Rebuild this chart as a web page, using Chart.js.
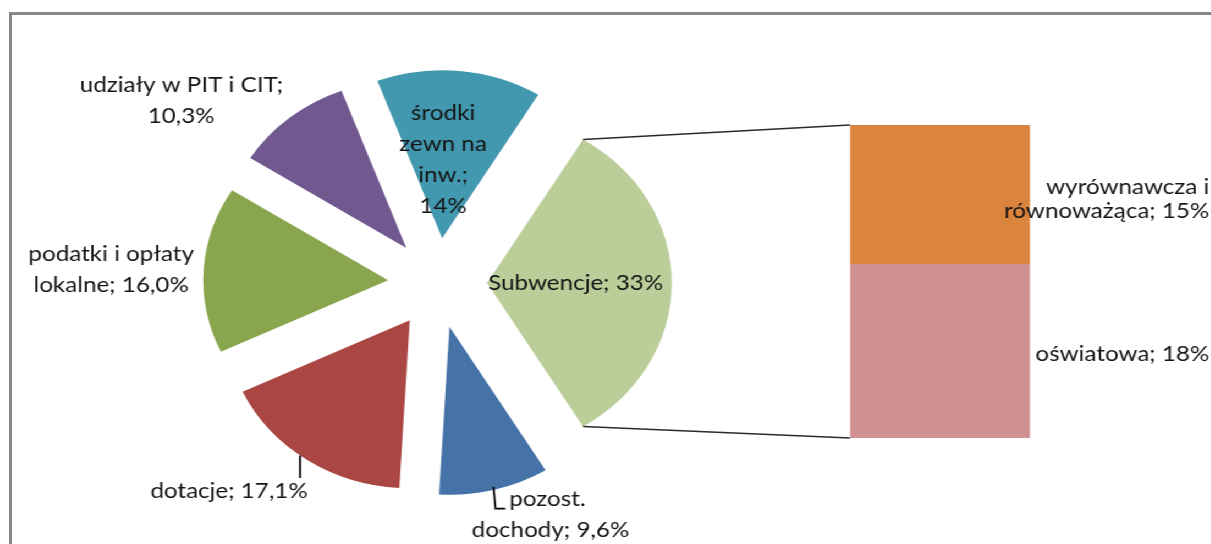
<!DOCTYPE html>
<html>
<head>
<meta charset="utf-8">
<script src="https://cdn.jsdelivr.net/npm/chart.js@4.4.1/dist/chart.umd.min.js"></script>
<style>
html, body { margin: 0; padding: 0; background: #fff; overflow: hidden; }
#frame { position: absolute; left: 9px; top: 12px; width: 1300px; height: 600px;
  border-top: 3px solid #868686; border-left: 3px solid #868686; }
/* the original picture is stretched a bit in width, so the chart is too */
#stage { position: absolute; left: 0; top: 0; width: 1101px; height: 544px;
  transform: scaleX(1.1); transform-origin: 0 0; }
#stage canvas { position: absolute; left: 0; top: 0; }
</style>
</head>
<body>
<div id="frame"></div>
<div id="stage">
  <canvas id="pieChart" width="1101" height="544"></canvas>
  <canvas id="barChart" width="1101" height="544"></canvas>
</div>
<script>
// main pie
const pieCategories = ['Subwencje', 'pozost. dochody', 'dotacje', 'podatki i opłaty lokalne', 'udziały w PIT i CIT', 'środki zewn na inw.'];
const pieValues = [32.6, 9.6, 17.1, 16.0, 10.3, 14.4];
const pieLabelText = ['Subwencje; 33%', 'pozost. \ndochody; 9,6%', 'dotacje; 17,1%', 'podatki i opłaty\nlokalne; 16,0%', 'udziały w PIT i CIT;\n10,3%', 'środki\nzewn na\ninw.;\n14%'];
const pieColors = ['#BBCE99', '#4572A7', '#AA4643', '#89A54E', '#71588F', '#4198AF'];

// bar split of "Subwencje"
const barCategories = ['oświatowa', 'wyrównawcza i równoważąca'];
const barValues = [18.1, 14.5];
const barLabelText = ['oświatowa; 18%', 'wyrównawcza i\nrównoważąca; 15%'];
const barColors = ['#D09193', '#DB843D'];

const FONT = '22px Lato';
const TEXT_COLOR = '#151515';
const R = 168;
const EXPLODE = 45;
const CX = 397.7, CY = 283, HALF = 200;

// [distance in radii from slice tip, angle from slice middle in degrees]
const pieLabelPlace = [[0.48, 0], [1.245, -12], [1.41, 9.9], [1.5, -1.1], [1.5, -15.2], [0.47, -4.8]];
// [x past the bar's right edge, y from segment middle]
const barLabelPlace = [[163, 2.5], [163, 4]];

const total = pieValues.reduce((a, b) => a + b, 0);
const rad = d => d * Math.PI / 180;

function drawLines(ctx, text, x, y, lineH) {
  const lines = text.split('\n');
  const y0 = y - (lines.length - 1) * lineH / 2;
  lines.forEach((ln, i) => ctx.fillText(ln, x, y0 + i * lineH));
}

const explodePlugin = {
  id: 'explode',
  afterDatasetsUpdate(chart) {
    chart.getDatasetMeta(0).data.forEach(arc => {
      const mid = (arc.startAngle + arc.endAngle) / 2;
      arc.x += Math.cos(mid) * EXPLODE;
      arc.y += Math.sin(mid) * EXPLODE;
    });
  }
};

const pieLabelPlugin = {
  id: 'pieLabels',
  afterDatasetsDraw(chart) {
    const ctx = chart.ctx;
    ctx.save();
    ctx.font = FONT;
    ctx.fillStyle = TEXT_COLOR;
    ctx.strokeStyle = '#000';
    ctx.lineWidth = 1.8;
    ctx.textAlign = 'center';
    ctx.textBaseline = 'middle';
    chart.getDatasetMeta(0).data.forEach((arc, i) => {
      const mid = (arc.startAngle + arc.endAngle) / 2;
      const [k, da] = pieLabelPlace[i];
      const a = mid + rad(da);
      const x = arc.x + Math.cos(a) * k * arc.outerRadius;
      const y = arc.y + Math.sin(a) * k * arc.outerRadius;
      drawLines(ctx, pieLabelText[i], x, y, 31);

      // leader lines
      if (i === 2) {
        const la = mid + rad(2.4);
        const sx = arc.x + Math.cos(la) * arc.outerRadius;
        const sy = arc.y + Math.sin(la) * arc.outerRadius;
        ctx.beginPath();
        ctx.moveTo(sx, sy);
        ctx.lineTo(sx, y - 13);
        ctx.stroke();
      }
      if (i === 1) {
        const sx = arc.x + Math.cos(mid) * (arc.outerRadius - 3);
        const sy = arc.y + Math.sin(mid) * (arc.outerRadius - 3);
        const ly = y - 15.5 + 9.5;
        ctx.beginPath();
        ctx.moveTo(sx, sy);
        ctx.lineTo(x - 50, ly);
        ctx.lineTo(x - 41, ly);
        ctx.stroke();
      }
    });
    ctx.restore();
  }
};

const pieChart = new Chart(document.getElementById('pieChart'), {
  type: 'pie',
  data: {
    labels: pieCategories,
    datasets: [{
      data: pieValues,
      backgroundColor: pieColors,
      borderWidth: 0
    }]
  },
  options: {
    responsive: false,
    animation: false,
    events: [],
    rotation: 90 - pieValues[0] / total * 180,
    radius: R,
    layout: {
      padding: { left: CX - HALF, right: 1101 - CX - HALF, top: CY - HALF, bottom: 544 - CY - HALF }
    },
    plugins: {
      legend: { display: false },
      tooltip: { enabled: false }
    }
  },
  plugins: [explodePlugin, pieLabelPlugin]
});

const barLabelPlugin = {
  id: 'barLabels',
  afterDatasetsDraw(chart) {
    const ctx = chart.ctx;
    ctx.save();
    ctx.font = FONT;
    ctx.fillStyle = TEXT_COLOR;
    ctx.textAlign = 'right';
    ctx.textBaseline = 'middle';
    barValues.forEach((v, i) => {
      const bar = chart.getDatasetMeta(i).data[0];
      const [dx, dy] = barLabelPlace[i];
      drawLines(ctx, barLabelText[i], bar.x + bar.width / 2 + dx, (bar.y + bar.base) / 2 + dy, 24);
    });
    ctx.restore();
  }
};

// lines from the "Subwencje" slice to the bar
const connectorPlugin = {
  id: 'connector',
  afterDatasetsDraw(chart) {
    const arc = pieChart.getDatasetMeta(0).data[0];
    const bottom = chart.getDatasetMeta(0).data[0];
    const top = chart.getDatasetMeta(barValues.length - 1).data[0];
    const left = top.x - top.width / 2;
    const ctx = chart.ctx;
    ctx.save();
    ctx.strokeStyle = '#2a2a2a';
    ctx.lineWidth = 1.3;
    ctx.beginPath();
    ctx.moveTo(arc.x + Math.cos(arc.startAngle) * arc.outerRadius, arc.y + Math.sin(arc.startAngle) * arc.outerRadius);
    ctx.lineTo(left, top.y);
    ctx.moveTo(arc.x + Math.cos(arc.endAngle) * arc.outerRadius, arc.y + Math.sin(arc.endAngle) * arc.outerRadius);
    ctx.lineTo(left, bottom.base);
    ctx.stroke();
    ctx.restore();
  }
};

new Chart(document.getElementById('barChart'), {
  type: 'bar',
  data: {
    labels: [''],
    datasets: barValues.map((v, i) => ({
      label: barCategories[i],
      data: [v],
      backgroundColor: barColors[i],
      borderWidth: 0,
      barPercentage: 1,
      categoryPercentage: 1
    }))
  },
  options: {
    responsive: false,
    animation: false,
    events: [],
    layout: { padding: { left: 772.7, right: 1101 - 936.4, top: 125, bottom: 544 - 438 } },
    scales: {
      x: { stacked: true, display: false },
      y: { stacked: true, display: false, min: 0, max: barValues.reduce((a, b) => a + b, 0) }
    },
    plugins: {
      legend: { display: false },
      tooltip: { enabled: false }
    }
  },
  plugins: [barLabelPlugin, connectorPlugin]
});
</script>
</body>
</html>
